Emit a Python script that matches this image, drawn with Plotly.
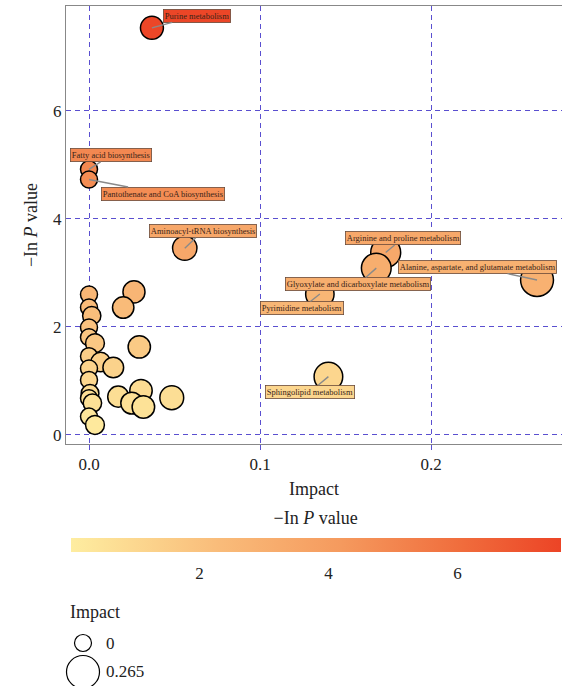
import numpy as np
import plotly.graph_objects as go
from plotly.colors import sample_colorscale

# ---------------- data ----------------
pathways = [
    "", "", "", "", "", "", "", "", "", "", "", "", "", "", "", "",
    "", "", "", "", "", "", "", "",
    "Aminoacyl-tRNA biosynthesis",
    "Purine metabolism",
    "Fatty acid biosynthesis",
    "Pantothenate and CoA biosynthesis",
    "Arginine and proline metabolism",
    "Glyoxylate and dicarboxylate metabolism",
    "Alanine, aspartate, and glutamate metabolism",
    "Pyrimidine metabolism",
    "Sphingolipid metabolism",
]
impact = [
    0.0, 0.0, 0.0016, 0.0, 0.0, 0.0035, 0.0, 0.0068, 0.0142, 0.0, 0.0, 0.0006,
    0.0, 0.002, 0.0, 0.0035,
    0.0263, 0.020, 0.0294, 0.0171, 0.0304, 0.025, 0.0318, 0.0484,
    0.056, 0.0368, 0.0, 0.0, 0.1735, 0.168, 0.262, 0.135, 0.140,
]
neg_ln_p = [
    2.60, 2.36, 2.21, 1.99, 1.81, 1.70, 1.46, 1.35, 1.25, 1.23, 1.02, 0.77,
    0.68, 0.59, 0.34, 0.185,
    2.65, 2.36, 1.63, 0.71, 0.82, 0.59, 0.52, 0.69,
    3.46, 7.54, 4.92, 4.73, 3.38, 3.09, 2.87, 2.61, 1.08,
]
x_ticks = [0.0, 0.1, 0.2]
y_ticks = [0, 2, 4, 6]
cbar_ticks = [2, 4, 6]
size_legend_values = [0, 0.265]

# ---------------- styling ----------------
FONT = "Liberation Serif"
colorscale = [
    [0.0, "#FEEDA0"],
    [0.3, "#F9BC7A"],
    [0.55, "#F59A5E"],
    [0.8, "#F06C3C"],
    [1.0, "#EC4426"],
]
CMIN, CMAX = 0.0, 7.6
IMP_MAX = 0.265


def diam(v):
    return 17 + 16 * np.sqrt(v / IMP_MAX)


sizes = [diam(v) for v in impact]
colors = sample_colorscale(colorscale, [(v - CMIN) / (CMAX - CMIN) for v in neg_ln_p])

# label offsets (pixels) relative to the point
label_offsets = {
    "Purine metabolism": (45, -12),
    "Fatty acid biosynthesis": (22, -14),
    "Pantothenate and CoA biosynthesis": (74, 14),
    "Aminoacyl-tRNA biosynthesis": (18, -17),
    "Arginine and proline metabolism": (17, -14),
    "Alanine, aspartate, and glutamate metabolism": (-60, -13),
    "Glyoxylate and dicarboxylate metabolism": (-18, 16),
    "Pyrimidine metabolism": (-18, 14),
    "Sphingolipid metabolism": (-18, 15),
}

fig = go.Figure()
fig.add_trace(go.Scatter(
    x=impact, y=neg_ln_p, mode="markers",
    marker=dict(
        size=sizes, sizemode="diameter",
        color=neg_ln_p, colorscale=colorscale, cmin=CMIN, cmax=CMAX,
        line=dict(color="black", width=1.5), opacity=1,
        colorbar=dict(
            orientation="h",
            x=(70.6 - 66) / 496, xanchor="left", xref="paper",
            y=-0.168, yanchor="top", yref="paper",
            len=490, lenmode="pixels", thickness=14,
            xpad=0, ypad=0,
            outlinewidth=0,
            tickvals=cbar_ticks,
            ticks="outside", ticklen=7, tickcolor="rgba(0,0,0,0)",
            tickfont=dict(family=FONT, size=17, color="#222"),
            title=dict(text="\u2212In <i>P</i> value", side="top",
                       font=dict(family=FONT, size=18, color="#222")),
        ),
    ),
    showlegend=False, hoverinfo="skip",
))

annotations = []
for name, xv, yv, c in zip(pathways, impact, neg_ln_p, colors):
    if not name:
        continue
    ax, ay = label_offsets[name]
    annotations.append(dict(
        x=xv, y=yv, xref="x", yref="y", ax=ax, ay=ay,
        text=name, showarrow=True, arrowhead=0, arrowwidth=1.4,
        arrowcolor="#8a8a8a", standoff=0, startstandoff=0,
        font=dict(family=FONT, size=8.5, color="#3a2418"),
        bgcolor=c, bordercolor="#6a4a3a", borderwidth=0.8, borderpad=1,
    ))

PH = 438.0
PW = 496.0


def py2paper(py):
    return (444 - py) / PH


def px2paper(px):
    return (px - 66) / PW


# size legend
annotations.append(dict(
    x=px2paper(68), y=py2paper(612), xref="paper", yref="paper", text="Impact",
    showarrow=False, font=dict(family=FONT, size=18, color="#222"),
    xanchor="left", yanchor="middle",
))
shapes = []
legend_rows = [643, 672]
for v, row in zip(size_legend_values, legend_rows):
    d = diam(v)
    shapes.append(dict(
        type="circle", xref="paper", yref="paper",
        xsizemode="pixel", ysizemode="pixel",
        xanchor=px2paper(83), yanchor=py2paper(row),
        x0=-d / 2, x1=d / 2, y0=-d / 2, y1=d / 2,
        line=dict(color="black", width=1.2), fillcolor="rgba(0,0,0,0)",
    ))
    annotations.append(dict(
        x=px2paper(104), y=py2paper(row), xref="paper", yref="paper",
        text=f"{v:g}", showarrow=False, xanchor="left", yanchor="middle",
        font=dict(family=FONT, size=17, color="#222"),
    ))

grid = dict(showgrid=True, gridcolor="#5A4FD0", gridwidth=1.2, griddash="5px,4px")
fig.update_layout(
    width=562, height=686,
    margin=dict(l=66, r=0, t=6, b=242),
    paper_bgcolor="white", plot_bgcolor="white",
    font=dict(family=FONT, color="#222"),
    xaxis=dict(
        range=[-0.01345, 0.2766], tickvals=x_ticks, ticktext=["0.0", "0.1", "0.2"],
        tickfont=dict(family=FONT, size=17), zeroline=False,
        showline=True, linecolor="#888", linewidth=1, mirror=True,
        ticks="outside", ticklen=5, tickcolor="#5A4FD0",
        title=dict(text="Impact", font=dict(family=FONT, size=18), standoff=8),
        **grid,
    ),
    yaxis=dict(
        range=[-0.167, 7.944], tickvals=y_ticks,
        tickfont=dict(family=FONT, size=17), zeroline=False,
        showline=True, linecolor="#888", linewidth=1, mirror=True,
        ticks="",
        title=dict(text="\u2212In <i>P</i> value", font=dict(family=FONT, size=18), standoff=10),
        **grid,
    ),
    annotations=annotations,
    shapes=shapes,
)

fig.write_html("out.html")
